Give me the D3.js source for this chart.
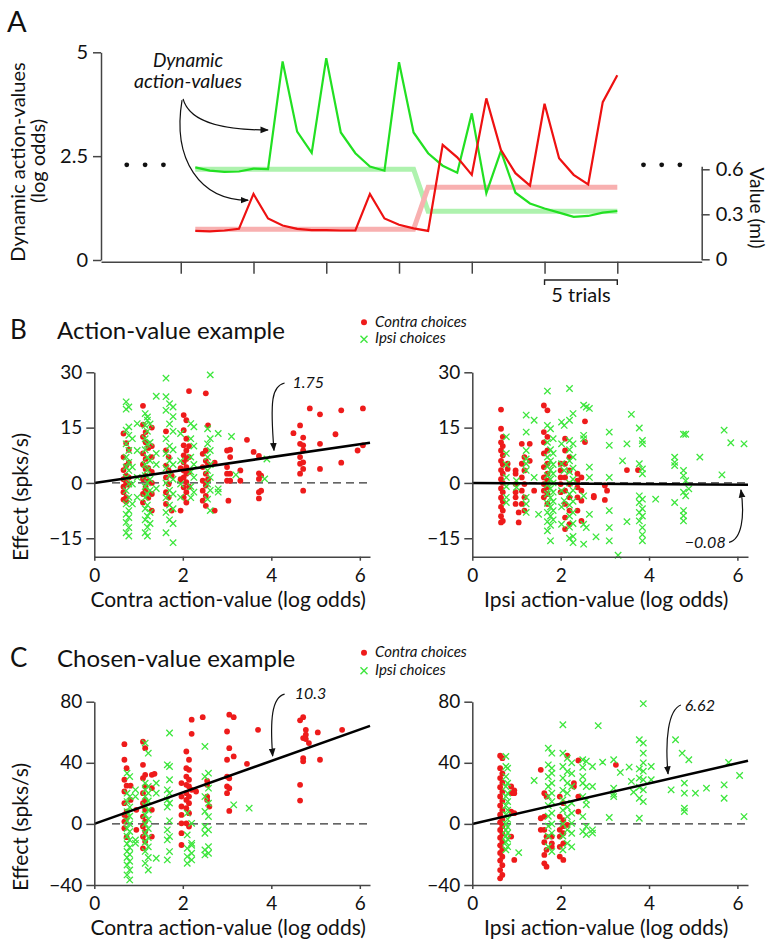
<!DOCTYPE html>
<html>
<head>
<meta charset="utf-8">
<script src="https://d3js.org/d3.v7.min.js"></script>
<style>
  body { margin: 0; background: #fff; }
  svg text { font-family: Lato, "Open Sans", sans-serif; fill: #111; }
  .axis path, .axis line { stroke: #444; stroke-width: 1.5; }
  .axis text { font-family: Lato, sans-serif; fill: #111; }
</style>
</head>
<body>
<script>
// ---------- panel A data (trial by trial) ----------
var trials = [1,2,3,4,5,6,7,8,9,10,11,12,13,14,15,16,17,18,19,20,21,22,23,24,25,26,27,28,29,30];
var greenAV = [2.23,2.15,2.12,2.13,2.20,2.19,4.78,3.09,2.58,4.86,3.07,2.57,2.25,2.15,4.76,3.07,2.57,2.27,2.10,3.53,1.61,2.62,1.62,1.36,1.24,1.14,1.04,1.06,1.14,1.18];
var redAV   = [0.70,0.69,0.71,0.75,1.59,1.00,0.83,0.75,0.72,0.72,0.71,0.71,1.59,1.00,0.85,0.76,0.70,2.77,2.47,2.05,3.89,2.65,2.09,1.79,3.76,2.45,2.05,1.82,3.80,4.45];
var greenReward = [0.6,0.6,0.6,0.6,0.6,0.6,0.6,0.6,0.6,0.6,0.6,0.6,0.6,0.6,0.6,0.6,0.32,0.32,0.32,0.32,0.32,0.32,0.32,0.32,0.32,0.32,0.32,0.32,0.32,0.32];
var redReward   = [0.2,0.2,0.2,0.2,0.2,0.2,0.2,0.2,0.2,0.2,0.2,0.2,0.2,0.2,0.2,0.2,0.48,0.48,0.48,0.48,0.48,0.48,0.48,0.48,0.48,0.48,0.48,0.48,0.48,0.48];
var trialTicks = [0,5,10,15,20,25,30];
var avTicks = [0, 2.5, 5];
var mlTicks = [0, 0.3, 0.6];
var ellipsisTrials = [-3.71,-2.45,-1.19,31.8,33.05,34.3];

// ---------- panel B/C scatter data: [x, [y values]] ----------
var bLeftRed = [
  [0.66,[13.4,7,3.5,1,-1,-2.5,-4.5]],[0.72,[10.8,4.7,2,0,-3.9,-5]],[0.78,[9,5.5,1.5,-0.5]],
  [1.1,[20.9,15.8,12.5,8,5,1,-3,-5.3]],[1.16,[13.8,11,6.5,3.8,2,-1,-2]],[1.22,[9.5,4,0.5,-4]],
  [1.3,[15,10,7,3,0,-3,-7.5]],[1.62,[14,8.8,4.7,1.5,-2.5,-5.7]],[1.68,[7,3.4,-0.3,-3.9]],[1.75,[-7.5,2]],
  [1.95,[-7.5,1,4]],[2.02,[18.4,14.3,10.2,7.5,5.6,3.4,1.5,-1.2,-3.9]],[2.08,[17,12,8.8,6.5,4.3,2.5,0.2,-2.5,-5.3]],
  [2.14,[24.9,10,7,3,-1]],[2.45,[7.9,4.3,0.6,-2.1,-4.8]],[2.52,[24.3,8.8,6,2.5,-0.7,-3.5,-6.2]],[2.57,[15.6,5,1]],
  [2.72,[-7.5,5.5]],[3.0,[8.8,4.3,2.5,0.6]],[3.03,[-4.8]],[3.07,[9,7,2.5,0.6]],[3.3,[3.4,0.6]],[3.45,[11.7]],
  [3.6,[8.4]],[3.72,[7.3,2.6,1.1,-2.5,-4.2]],[3.77,[2,-2.1]],[4.5,[13.5]],[4.65,[10.6,7,5.2,2.5,15.6]],
  [4.72,[10.2,8.8,5.6,3.8,12.3,-2.1]],[4.87,[20.2]],[5.1,[18.6,10.6,3.8]],[5.45,[13.2]],[5.58,[5.5,19.7]],
  [5.95,[8.8]],[6.07,[20.2,10.2]]
];
var bLeftGreen = [
  [0.72,[22,20,14.3,10.6,7,4.3,1.5,-2.1,-5.7,-8.5,-10.7,-13.5]],[0.78,[20.6,15.2,12.9,8.8,5.6,3.4,-0.3,-3.9,-7.5,-9.4,-12.1,-14.4]],
  [0.86,[12,4.3,-0.3,-5.7]],[0.97,[16.1,8.8,1.5,-3.9]],[1.15,[18.8,15.6,12,9,5,2,-1,-4,-7,-10,-13.5]],
  [1.2,[17.9,17,14,10.5,7,3.5,0,-3,-6,-9,-12,-14.4]],[1.26,[16,11,6,1,-2,-8,-11]],[1.4,[23.5,8,5,-1.5]],
  [1.62,[28.4,23.4,19.7,12,8,4,0,-4,-8,-13.5]],[1.7,[21.5,16,10,6,2,-2,-6,-10]],[1.78,[20.6,18,14,9,5,1,-3,-7,-11,-16.2]],
  [1.95,[13.4,6,-0.3,-3.9]],[2.18,[16.1,12,7,3,-1,-4]],[2.25,[15.2,10,5,1.5,-2.5]],[2.56,[14.7,10.6,7,3.4,-0.3,-4.4]],
  [2.62,[29.3,12,8.8,5,1.5,-2,-7.5]],[2.8,[13.4,-1.6,-2.5]],[3.1,[12.6]],[3.2,[2.2]],[3.85,[1.1]],[3.9,[6.5]]
];
var bRightRed = [
  [0.65,[19.9,14.7,11,8.8,6,3.5,1,-1.5,-4,-6.5,-9,-10.7]],[0.69,[12.5,10,7.5,5,2.5,0,-2.5,-5,-7.5,-10.3]],[0.8,[5.2,3.8]],
  [0.98,[3.4,2.5,-0.3,-2.5,-3.9,-5.7]],[1.05,[-8,-10.7]],[1.12,[10.6,5.2,1.5,-2.1,-5.7]],[1.18,[7,3.4,-0.3,-3.9,-7.5]],
  [1.3,[10.6,6]],[1.4,[-2.1]],[1.62,[21,13.8,11,8,4.3,1.5,-0.3,-2.1,-3.9]],[1.7,[19.7,12.5,8.8,5.2,2.5,0.6,-1.2,-3,-5.7]],
  [2.0,[5.2,3.4,1.5,-0.3,-2.5]],[2.1,[12,8.8,5.2,1.5,-2.1,-5.7,-9.4,-12.5]],[2.2,[7,3.4,-0.3,-3.9,-7.5,-11.2]],
  [2.38,[2.5,0.6,-1.2,-3.9,-7.5]],[2.47,[1.5,-2.1,-4.8,-10.3]],[2.55,[16.7,11.1]],[2.75,[-3.5,-3.9]],
  [3.0,[-0.7,-4.6]],[3.05,[-2.1]],[3.5,[3.5]],[3.75,[3.5]]
];
var bRightGreen = [
  [0.77,[12.5,8,5,1.5,-1,-3.9,-5.3]],[1.0,[0.6,-1.2]],[1.22,[18.4,13.8,8.8,6.5,5.2,3.4,-3.9,-5.7,-8]],[1.4,[17,1.5]],
  [1.5,[-8.5]],[1.7,[24.9,15.6,11,7,4.5,2,-0.5,-3,-5.5,-8,-10.5,-13]],[1.77,[14.7,9,6,3.5,1,-1.5,-4,-6.5,-9,-11.5,-15.7]],
  [1.83,[12,8,5,2.5,0,-2.5,-5,-7.5,-10]],[2.02,[16.5,10.6,5.2,-2.1,-6.5,-11.2]],[2.08,[15.6,3.4,-4.8]],
  [2.2,[25.6,17,11.5,9,6,3,0,-3,-6,-9,-12,-15]],[2.28,[18.8,10.6,7,4,1,-2,-5,-8,-11,-14.5,-16.2]],
  [2.52,[21.1,12.9,12,-3.5,-11.2,-16.6]],[2.58,[20.6,-12.1]],[2.65,[20.2,4.3,1.5,-8.5]],[2.8,[-14.6]],
  [3.1,[13.8,10.2,1.5,-7.5,-12.1,-15.7]],[3.3,[-19.6]],[3.4,[6]],[3.5,[10.6,-10.5]],[3.6,[18.6]],
  [3.78,[14.9,5.2,-3.5,-5.3,-8,-10.3]],[3.85,[11.5,10.6,3.8,2.5,-4.4,-7,-9,-12.1,-14,-15.7]],[4.15,[-4.4]],
  [4.58,[7,5.6,4.7,-5.3]],[4.78,[13.2,3.4,2,-2.5,-7.5,-8.9,-10.3]],[4.83,[13.2,0.6,-3.5]],[4.9,[-1.6]],
  [5.15,[7]],[5.65,[2.2]],[5.7,[14.3]],[5.85,[10.9]],[6.15,[10.6]]
];
var cLeftRed = [
  [0.68,[52.2,42,28.9,21.2,13.6,5.9,1.5,-2.8]],[0.73,[36.5,25,8.1,3.7,-8.7]],[0.82,[25,15.7]],[0.95,[9.2,-3.9]],
  [1.1,[53.8,38.7,29.9,20.1,13.6,4.8,-1.7,-8.3,-16]],[1.15,[49.6,32.1,24.5,15.7,9.2,1.5,-5,-11.6]],
  [1.3,[32.1,23.4,9.2,-8.3]],[1.36,[32.8]],[1.97,[26.7,17.9,11.4,5.9,0.4,-6.1,-13.8]],
  [2.08,[47.4,36.5,31,25.6,20.1,15.7,10.3,0.4]],[2.14,[42,35.4,28.9,24.5,17.9,13.6,7,-1.7]],[2.2,[68.2,59,22.3]],
  [2.3,[21.2]],[2.45,[69.9]],[2.55,[28.2,25.6,17.9,15.7]],[2.6,[11.4]],[3.0,[60.5,42,31,24.5,20.1]],
  [3.05,[71.5,49.6,29.9,23.4,8.5]],[3.15,[69.9,44.2]],[3.45,[39.3]],[3.7,[61.6]],[4.65,[67.8,25.6,15.3]],
  [4.72,[69.9,56.2,43,40.9]],[4.78,[61.6,58.4,55.5]],[4.85,[52.9]],[5.05,[59.9]],[5.1,[42]],[5.6,[61.6]]
];
var cLeftGreen = [
  [0.74,[33.2,20.1,14.6,8,2,-3,-8,-13,-18,-22,-26.9,-33.4]],[0.8,[31,17.9,11,5,0,-5,-10.5,-15.5,-20,-24.5,-30.2,-36.7]],
  [0.93,[22.3,17.9,-10.5,-12.7]],[1.15,[52.9,26.7,22.3,17.9,12,6,0,-6,-12,-18,-25.8]],
  [1.22,[46.3,24.5,20.1,15,9,3,-3,-9,-15,-22,-30.2]],[1.4,[26.7,20.1,-22.5]],[1.65,[38.7,22.3,15.7,11,-3.9,-10.5,-23.6]],
  [1.7,[59.5,37.6,28.9,20,13.6,2,-8.3,-18.1]],[2.1,[7,-7.2,-16,-21.4,-25.8]],[2.2,[0.4,-12.7,-19.2,-23.6,-14]],
  [2.5,[50.7,31,17.9,8.1,-1.7,-6.1,-17,-20.3]],[2.58,[33.2,23.4,13.6,4.8,-3.9,-14.9,-19.2]],[3.15,[12.5]],[3.5,[10.3]]
];
var cRightRed = [
  [0.63,[44.6,36.5,30,24,18,12,6,1,-4,-9,-14,-19,-24,-30.2,-35.6]],[0.68,[43,33,27,21,15,9,3,-1.5,-6.5,-11.5,-16.5,-21.5,-27,-33.4]],
  [0.88,[24.5,20.1,8.1,-8.3]],[0.95,[22,20.1,7,-23.6]],[1.55,[35.4,3.7,-3.9]],[1.63,[20.1,4.8,-3.9,-12,-20.3,-25.8]],
  [1.68,[17.9,-8.3,-17,-28]],[1.8,[-8.3,-12.7,-15]],[1.98,[17.9,4.8,-3.9,-8.3,-15,-21.4]],
  [2.06,[13.6,2.5,-1.5,-6.1,-12.7,-23.6]],[2.15,[44.6,-0.7]],[2.3,[26.7,24.5]],[2.4,[41.5,17.9,8.1]],[3.25,[38.7]]
];
var cRightGreen = [
  [0.76,[44.2,37.6,31,24.5,18,12,6,0,-4,-8,-12,-17]],[0.8,[36.5,26.7,20.1,14.6,9,3,-2,-6,-10,-14.9]],[1.05,[-18.8]],
  [1.4,[28.4]],[1.72,[49.6,38.7,31,24.5,18,12,5,-1.5,-8,-14.9]],[1.8,[46.3,36.5,33.2,26.7,20.1,14.6,7,0,-6,-18.1]],
  [2.05,[64.9,46.3,37.6,30,22,15.7,9,0,-8,-17]],[2.15,[43,34.3,26.7,20.1,11,4.8,-3.9,-12.7]],
  [2.25,[40,33,24.5,13.6,7,0.4,-6.1,-15]],[2.5,[42,37,31,26.7,17.9,4.8,-5]],[2.58,[41,24.5,15.7,12.5,-1.7,-7]],
  [2.72,[37.6,24.5,-3.9,-6]],[2.85,[64.3]],[2.95,[40.4]],[3.1,[4.2]],[3.2,[42,23.4,17.9,19.5]],[3.35,[33.7]],
  [3.55,[37.2]],[3.6,[27.8]],[3.65,[20.8]],[3.78,[55.1,36,30,24,16.8,3.7]],[3.87,[78.7,52.9,46.3,40,34.5,28.9,22.3,14.6]],
  [4.05,[37.6,28.9]],[4.5,[22.3]],[4.6,[55.1]],[4.75,[46.3]],[4.8,[26.7,20.1,10.3,8.1]],[4.9,[42]],[5.05,[20.1]],
  [5.3,[23.4]],[5.7,[25.6,16.8]],[5.8,[40.2]],[6.05,[31.7]],[6.15,[4.8]]
];
var slopes = {bL: 1.75, bR: -0.08, cL: 10.3, cR: 6.62};
var slopeLabels = {bL: "1.75", bR: "\u22120.08", cL: "10.3", cR: "6.62"};
var xTicks = [0, 2, 4, 6];

var RED = "#ee1b1b", GREEN = "#3de63d";

var svg = d3.select("body").append("svg").attr("width", 771).attr("height", 943);
var defs = svg.append("defs");
defs.append("marker").attr("id", "ah").attr("viewBox", "0 0 10 10")
  .attr("refX", 9).attr("refY", 5).attr("markerWidth", 7).attr("markerHeight", 7)
  .attr("orient", "auto")
  .append("path").attr("d", "M0,1L10,5L0,9z").attr("fill", "#111");

function curve(xs, ys, pts) {
  var p = pts.map(function(d) { return [xs(d[0]), ys(d[1])]; });
  return "M" + p[0] + "C" + p[1] + " " + p[2] + " " + p[3];
}
function arrow(g, xs, ys, pts) {
  g.append("path").attr("d", curve(xs, ys, pts)).attr("fill", "none")
    .attr("stroke", "#111").attr("stroke-width", 1.2).attr("marker-end", "url(#ah)");
}
function cross(s) { return "M" + (-s) + "," + (-s) + "L" + s + "," + s + "M" + (-s) + "," + s + "L" + s + "," + (-s); }

// ================= Panel A =================
var gA = svg.append("g");
var xA = d3.scaleLinear().domain([-5.48, 35.8]).range([101, 701.7]);
var yA = d3.scaleLinear().domain([0, 5]).range([260, 52.3]);
var yAR = d3.scaleLinear().domain([0, 0.62]).range([259.3, 166.3]);

gA.append("text").attr("x", 7).attr("y", 32).attr("font-size", 29).text("A");

gA.append("g").attr("class", "axis").attr("transform", "translate(101,0)")
  .call(d3.axisLeft(yA).tickValues(avTicks).tickSize(8).tickPadding(5).tickSizeOuter(0)
    .tickFormat(function(d) { return d === 2.5 ? "2.5" : d; }))
  .selectAll("text").attr("font-size", 20);
gA.append("g").attr("class", "axis").attr("transform", "translate(701.7,0)")
  .call(d3.axisRight(yAR).tickValues(mlTicks).tickSize(8).tickPadding(6).tickSizeOuter(0)
    .tickFormat(function(d) { return d; }))
  .selectAll("text").attr("font-size", 20);
gA.append("g").attr("class", "axis").attr("transform", "translate(0,261.7)")
  .call(d3.axisBottom(xA).tickValues(trialTicks).tickSize(12).tickFormat("").tickSizeOuter(0));

// bracket "5 trials"
gA.append("path").attr("d", "M" + xA(25) + ",285V280H" + xA(30) + "V285")
  .attr("fill", "none").attr("stroke", "#222").attr("stroke-width", 1.4);
gA.append("text").attr("x", (xA(25) + xA(30)) / 2).attr("y", 301.5).attr("text-anchor", "middle")
  .attr("font-size", 20).text("5 trials");

gA.append("text").attr("transform", "translate(25,162) rotate(-90)").attr("text-anchor", "middle")
  .attr("font-size", 20).text("Dynamic action-values");
gA.append("text").attr("transform", "translate(45,161) rotate(-90)").attr("text-anchor", "middle")
  .attr("font-size", 20).text("(log odds)");
gA.append("text").attr("transform", "translate(750,208) rotate(90)").attr("text-anchor", "middle")
  .attr("font-size", 19).text("Value (ml)");

gA.selectAll("circle.ell").data(ellipsisTrials).join("circle").attr("class", "ell")
  .attr("cx", function(d) { return xA(d); }).attr("cy", yA(2.29)).attr("r", 2.4).attr("fill", "#111");

var lineR = d3.line().x(function(d, i) { return xA(trials[i]); }).y(function(d) { return yAR(d); });
var lineL = d3.line().x(function(d, i) { return xA(trials[i]); }).y(function(d) { return yA(d); });
gA.append("path").attr("d", lineR(greenReward)).attr("fill", "none").attr("stroke", "#aef2ae").attr("stroke-width", 5);
gA.append("path").attr("d", lineR(redReward)).attr("fill", "none").attr("stroke", "#f8b0b0").attr("stroke-width", 5);
gA.append("path").attr("d", lineL(greenAV)).attr("fill", "none").attr("stroke", "#22e022").attr("stroke-width", 2.2).attr("stroke-linejoin", "miter");
gA.append("path").attr("d", lineL(redAV)).attr("fill", "none").attr("stroke", "#ee1111").attr("stroke-width", 2.2).attr("stroke-linejoin", "miter");

gA.append("text").attr("x", xA(0.5)).attr("y", yA(4.64)).attr("text-anchor", "middle")
  .attr("font-size", 19).attr("font-style", "italic").text("Dynamic");
gA.append("text").attr("x", xA(0.5)).attr("y", yA(4.13)).attr("text-anchor", "middle")
  .attr("font-size", 19.5).attr("font-style", "italic").text("action-values");
arrow(gA, xA, yA, [[0.16, 3.88], [0.64, 3.25], [3.39, 3.13], [6.0, 3.13]]);
arrow(gA, xA, yA, [[0.09, 3.85], [-0.6, 2.41], [1.33, 1.44], [4.63, 1.44]]);

// ================= Panels B and C =================
var panels = [
  {id: "bL", xr: [94.3, 370], xd: [0, 6.23], yr: [556.7, 372.3], yd: [-20, 30], yt: [-15, 0, 15, 30],
   red: bLeftRed, green: bLeftGreen, xlab: "Contra action-value (log odds)", ylab: true, ylabY: 497,
   arrowPts: [[4.30, 27.1], [4.01, 26.3], [3.97, 22.4], [4.06, 8.8]], txt: [4.48, 25.7]},
  {id: "bR", xr: [472.3, 748], xd: [0, 6.24], yr: [556.7, 372.3], yd: [-20, 30], yt: [-15, 0, 15, 30],
   red: bRightRed, green: bRightGreen, xlab: "Ipsi action-value (log odds)", ylab: false,
   arrowPts: [[5.81, -16.1], [6.10, -15.3], [6.17, -9.0], [6.08, -1.9]], txt: [4.81, -17.6]},
  {id: "cL", xr: [94.3, 370], xd: [0, 6.23], yr: [885, 701.7], yd: [-40, 80], yt: [-40, 0, 40, 80],
   red: cLeftRed, green: cLeftGreen, xlab: "Contra action-value (log odds)", ylab: true, ylabY: 827,
   arrowPts: [[4.30, 85], [4.01, 83], [3.97, 68], [4.03, 44.4]], txt: [4.53, 81.7]},
  {id: "cR", xr: [472.3, 748], xd: [0, 6.24], yr: [885, 701.7], yd: [-40, 80], yt: [-40, 0, 40, 80],
   red: cRightRed, green: cRightGreen, xlab: "Ipsi action-value (log odds)", ylab: false,
   arrowPts: [[4.72, 77.8], [4.43, 74.5], [4.36, 54.9], [4.43, 32.7]], txt: [4.81, 73.7]}
];

panels.forEach(function(p) {
  var g = svg.append("g");
  var xs = d3.scaleLinear().domain(p.xd).range(p.xr);
  var ys = d3.scaleLinear().domain(p.yd).range(p.yr);

  g.append("line").attr("x1", xs(0.4)).attr("x2", xs(p.xd[1])).attr("y1", ys(0)).attr("y2", ys(0))
    .attr("stroke", "#333").attr("stroke-width", 1.3).attr("stroke-dasharray", "8,5");

  var reds = p.red.flatMap(function(c) { return c[1].map(function(v) { return {x: c[0], y: v}; }); });
  var greens = p.green.flatMap(function(c) { return c[1].map(function(v) { return {x: c[0], y: v}; }); });

  g.selectAll("circle.red").data(reds).join("circle").attr("class", "red")
    .attr("cx", function(d) { return xs(d.x); }).attr("cy", function(d) { return ys(d.y); })
    .attr("r", 2.9).attr("fill", RED);
  g.selectAll("path.grn").data(greens).join("path").attr("class", "grn")
    .attr("transform", function(d) { return "translate(" + xs(d.x) + "," + ys(d.y) + ")"; })
    .attr("d", cross(3.2)).attr("stroke", GREEN).attr("stroke-width", 1.3).attr("fill", "none");

  g.append("line").attr("x1", xs(0)).attr("y1", ys(0))
    .attr("x2", xs(p.xd[1])).attr("y2", ys(slopes[p.id] * p.xd[1]))
    .attr("stroke", "#000").attr("stroke-width", 2.6);

  g.append("g").attr("class", "axis").attr("transform", "translate(0," + p.yr[0] + ")")
    .call(d3.axisBottom(xs).tickValues(xTicks).tickSize(4).tickPadding(8).tickSizeOuter(0).tickFormat(d3.format("d")))
    .selectAll("text").attr("font-size", 19);
  g.append("g").attr("class", "axis").attr("transform", "translate(" + p.xr[0] + ",0)")
    .call(d3.axisLeft(ys).tickValues(p.yt).tickSize(8).tickPadding(4).tickSizeOuter(0))
    .selectAll("text").attr("font-size", 19);

  g.append("text").attr("x", (p.xr[0] + p.xr[1]) / 2 - 4).attr("y", p.yr[0] + 50)
    .attr("text-anchor", "middle").attr("font-size", 21).text(p.xlab);
  if (p.ylab) {
    g.append("text").attr("transform", "translate(28," + p.ylabY + ") rotate(-90)")
      .attr("text-anchor", "middle").attr("font-size", 21).text("Effect (spks/s)");
  }

  arrow(g, xs, ys, p.arrowPts);
  g.append("text").attr("x", xs(p.txt[0])).attr("y", ys(p.txt[1]))
    .attr("font-size", 16).attr("font-style", "italic").text(slopeLabels[p.id]);
});

// titles, letters, legends
[["B", "Action-value example", 338.5, 327, 343.3, 322.3, 339.3],
 ["C", "Chosen-value example", 667, 657, 675, 652.7, 670.7]].forEach(function(r) {
  svg.append("text").attr("x", 10).attr("y", r[2]).attr("font-size", 26).text(r[0]);
  svg.append("text").attr("x", 57).attr("y", r[2]).attr("font-size", 24).text(r[1]);
  svg.append("circle").attr("cx", 364).attr("cy", r[5]).attr("r", 3).attr("fill", RED);
  svg.append("path").attr("transform", "translate(364," + r[6] + ")").attr("d", cross(3.5))
    .attr("stroke", GREEN).attr("stroke-width", 1.4);
  svg.append("text").attr("x", 375).attr("y", r[3]).attr("font-size", 15).attr("font-style", "italic").text("Contra choices");
  svg.append("text").attr("x", 375).attr("y", r[4]).attr("font-size", 15).attr("font-style", "italic").text("Ipsi choices");
});
</script>
</body>
</html>
